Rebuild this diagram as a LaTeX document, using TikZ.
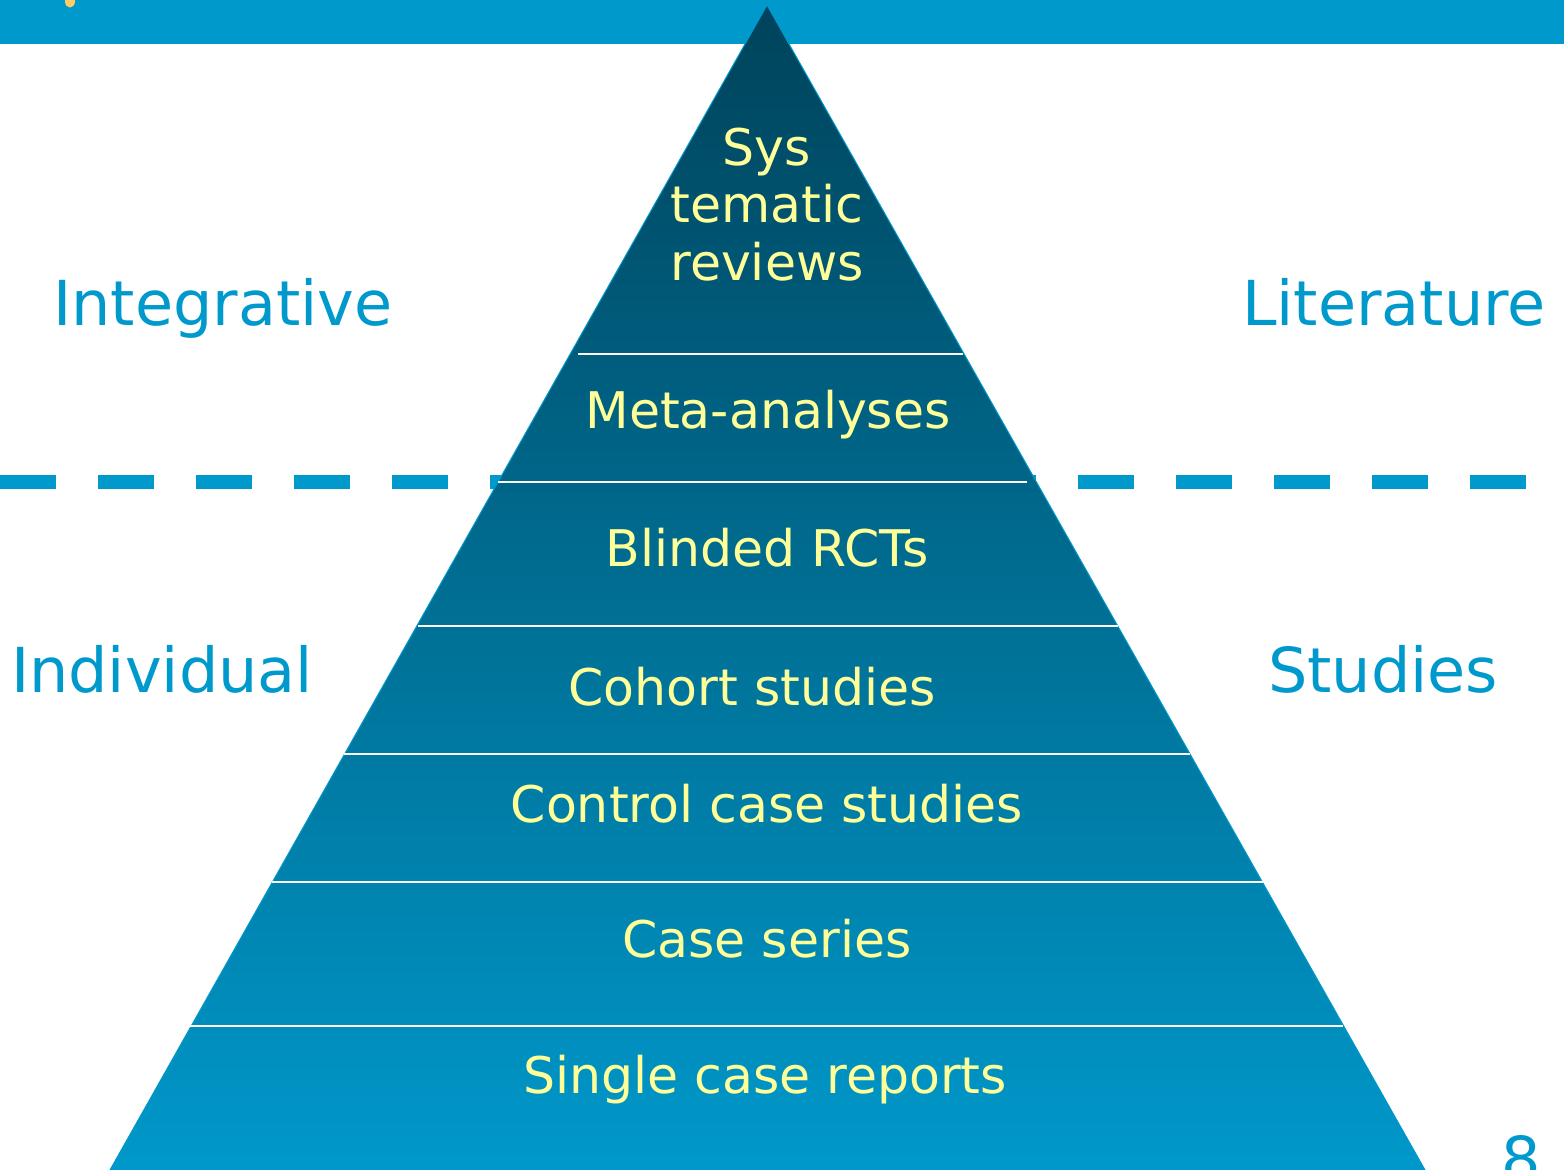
\documentclass[tikz,border=0pt]{standalone}
\usepackage{fontspec}
\newfontfamily\cf{DejaVu Sans}
\definecolor{barblue}{HTML}{0099CC}
\definecolor{pyrtop}{HTML}{00435B}
\definecolor{pyrbot}{HTML}{0098CA}
\definecolor{labyellow}{HTML}{FFFF99}
\definecolor{titleyellow}{HTML}{FFCC66}
\begin{document}
\begin{tikzpicture}[x=1pt,y=-1pt,
  ylab/.style={text=labyellow,font=\cf\fontsize{50.5}{57}\selectfont,anchor=base,inner sep=0},
  blab/.style={text=barblue,font=\cf\fontsize{62}{70}\selectfont,anchor=base,inner sep=0},
  sepline/.style={draw=white,line width=2}]
\useasboundingbox (0,0) rectangle (1564,1170);
% top bar
\fill[barblue] (0,0) rectangle (1564,44);
\fill[titleyellow] (70,1.5) ellipse [x radius=5, y radius=6];
% dashed divider
\draw[barblue,line width=14,dash pattern=on 56 off 42] (0,482) -- (1526,482);
% pyramid
\coordinate (apex) at (767,5);
\coordinate (bl) at (110,1170);
\coordinate (br) at (1425,1170);
\shade[top color=pyrtop,bottom color=pyrbot,draw=barblue,line width=1] (apex) -- (br) -- (bl) -- cycle;
% separators
\foreach \yy/\xa/\xb in {354/578/963, 482/498/1027, 626/418/1118, 754/344/1190, 882/272/1263, 1026/190/1343}
  \draw[sepline] (\xa,\yy) -- (\xb,\yy);
% level labels
\node[ylab] (sys1) at (767,165) {Sys};
\node[ylab] (sys2) at (767,222) {tematic};
\node[ylab] (sys3) at (767,280) {reviews};
\node[ylab] (meta) at (768,428) {Meta-analyses};
\node[ylab] (rct) at (767,566) {Blinded RCTs};
\node[ylab] (cohort) at (752,705) {Cohort studies};
\node[ylab] (control) at (767,822) {Control case studies};
\node[ylab] (series) at (767,957) {Case series};
\node[ylab] (single) at (765,1093) {Single case reports};
% side labels
\node[blab] (integ) at (223,325) {Integrative};
\node[blab] (lit) at (1394,325) {Literature};
\node[blab] (indiv) at (162,692) {Individual};
\node[blab] (stud) at (1383,692) {Studies};
\node[blab] (pnum) at (1521,1181) {8};
\end{tikzpicture}
\end{document}
